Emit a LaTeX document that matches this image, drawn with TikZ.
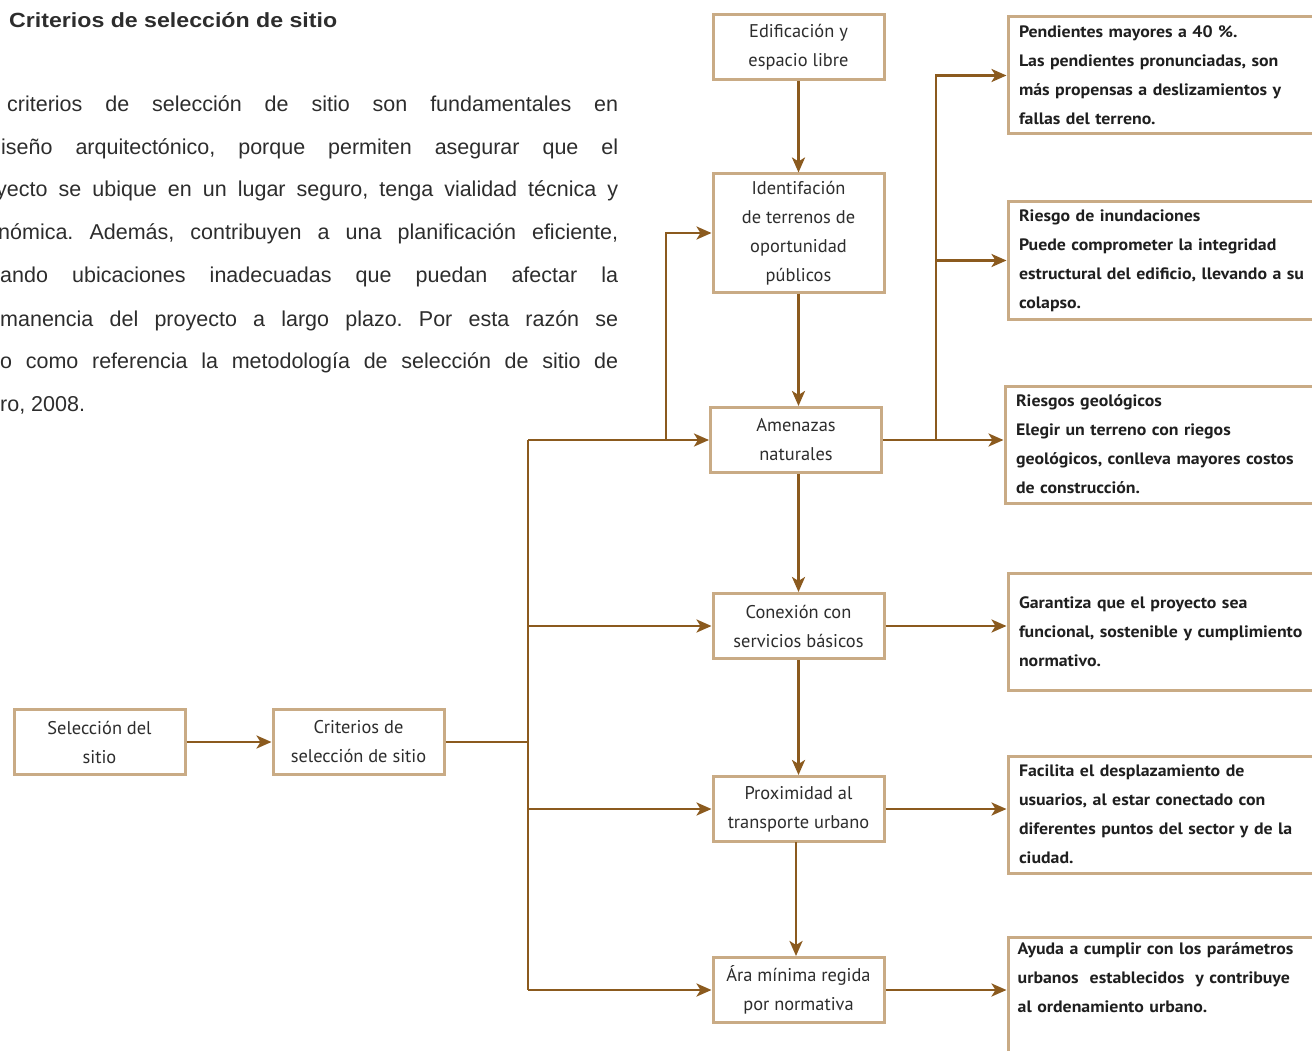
\documentclass[tikz,border=0pt]{standalone}
\usepackage{fontspec}
\setmainfont{PT Sans}
\newfontfamily\parafont{Liberation Sans}
\newfontfamily\rbfont[FakeStretch=1.08,WordSpace=0.6]{PT Sans}
\usetikzlibrary{arrows.meta}
\definecolor{conn}{RGB}{139,90,30}
\definecolor{bord}{RGB}{201,171,133}
\definecolor{txt}{RGB}{45,45,45}
\frenchspacing
\newcommand{\pline}[2]{\makebox[#1][s]{#2}}
\begin{document}
\begin{tikzpicture}[x=1pt,y=-1pt,
  box/.style={draw=bord,line width=3pt,fill=white,minimum width=171pt,minimum height=65pt,inner sep=0pt,align=center,font=\fontsize{18.4}{29}\selectfont,text=txt},
  rbox/.style={draw=bord,line width=3pt,anchor=north west,minimum width=330pt,inner xsep=11pt,inner ysep=0pt,text width=308pt,align=left,font=\rbfont\bfseries\fontsize{16.5}{29}\selectfont,text=black!88},
  rtxt/.style={anchor=north west,inner sep=0pt,text width=308pt,align=left,font=\rbfont\bfseries\fontsize{16.5}{29}\selectfont,text=black!88},
  para/.style={anchor=base west,inner sep=0pt,font=\parafont\fontsize{21.5}{21.5}\selectfont,text=txt},
  line/.style={draw=conn,line width=2.7pt},
  arr/.style={line,-{Stealth[length=15pt,width=13pt,inset=4pt]}}]
\useasboundingbox (0,0) rectangle (1312,1051);
\clip (0,0) rectangle (1312,1051);
\fill[white] (0,0) rectangle (1312,1051);

% title and paragraph
\node[anchor=base west,inner sep=0pt,font=\parafont\bfseries\fontsize{20.5}{22}\selectfont,text=txt] (title) at (9,28) {\resizebox{328pt}{\height}{Criterios de selección de sitio}};
\node[para] (p1) at (7,112) {\pline{611pt}{criterios de selección de sitio son fundamentales en}};
\node[para] (p2) at (1,155) {\pline{617pt}{iseño arquitectónico, porque permiten asegurar que el}};
\node[para] (p3) at (-4,197) {\pline{622pt}{yecto se ubique en un lugar seguro, tenga vialidad técnica y}};
\node[para] (p4) at (-2,240) {\pline{620pt}{nómica. Además, contribuyen a una planificación eficiente,}};
\node[para] (p5) at (0,283) {\pline{618pt}{ando ubicaciones inadecuadas que puedan afectar la}};
\node[para] (p6) at (0,326) {\pline{618pt}{manencia del proyecto a largo plazo. Por esta razón se}};
\node[para] (p7) at (0,368) {\pline{618pt}{o como referencia la metodología de selección de sitio de}};
\node[para] (p8) at (0,411) {ro, 2008.};

% central boxes
\node[box] (edif) at (798.5,47) {Edificación y\\espacio libre};
\node[box,minimum height=118pt] (ident) at (798.5,233) {Identifación\\de terrenos de\\oportunidad\\públicos};
\node[box] (amen) at (796,440) {Amenazas\\naturales};
\node[box] (conex) at (798.5,626) {Conexión con\\servicios básicos};
\node[box] (prox) at (798.5,809) {Proximidad al\\transporte urbano};
\node[box] (ara) at (798.5,990) {Ára mínima regida\\por normativa};
\node[box] (sel) at (99.5,742) {Selección del\\sitio};
\node[box] (crit) at (358.5,742) {Criterios de\\selección de sitio};

% right boxes
\node[rbox,minimum height=117pt] (pend) at (1006.5,15.5) {Pendientes mayores a 40 \%.\\Las pendientes pronunciadas, son\\más propensas a deslizamientos y\\fallas del terreno.};
\node[rbox,minimum height=117pt] (inund) at (1006.5,200.5) {Riesgo de inundaciones\\Puede comprometer la integridad\\estructural del edificio, llevando a su\\colapso.};
\node[rbox,minimum height=117pt] (geo) at (1003.5,384.5) {Riesgos geológicos\\Elegir un terreno con riegos\\geológicos, conlleva mayores costos\\de construcción.};
\node[rbox,minimum height=117pt] (gar) at (1006.5,571.5) {Garantiza que el proyecto sea\\funcional, sostenible y cumplimiento\\normativo.};
\node[rbox,minimum height=117pt] (fac) at (1006.5,754.5) {Facilita el desplazamiento de\\usuarios, al estar conectado con\\diferentes puntos del sector y de la\\ciudad.};
\node[rbox,minimum height=150pt] (ayu) at (1006.5,935.5) {};
\node[rtxt] (ayuT) at (1017.5,942) {Ayuda a cumplir con los parámetros\\urbanos\ \ establecidos\ \ y contribuye\\al ordenamiento urbano.};

% connectors
\coordinate (tr) at (528,742);
\coordinate (jx) at (666,440);
\coordinate (kx) at (936,440);
\draw[arr] (sel.east) -- (crit.west);
\draw[line] (crit.east) -- (tr);
\draw[line] (amen.west -| tr) -- (ara.west -| tr);
\draw[arr] (amen.west -| tr) -- (amen.west);
\draw[arr] (conex.west -| tr) -- (conex.west);
\draw[arr] (prox.west -| tr) -- (prox.west);
\draw[arr] (ara.west -| tr) -- (ara.west);
\draw[arr] (jx) |- (ident.west);

\draw[arr] (edif.south) -- (ident.north);
\draw[arr] (ident.south) -- (ident.south |- amen.north);
\draw[arr] (conex.north |- amen.south) -- (conex.north);
\draw[arr] (conex.south) -- (conex.south |- prox.north);
\coordinate (pa) at (796,842);
\draw[arr] (pa) -- (pa |- ara.north);

\draw[arr] (amen.east) -- (amen.east -| geo.west);
\draw[arr] (kx) |- (pend.west);
\draw[arr] (kx |- inund.west) -- (inund.west);
\draw[arr] (conex.east) -- (conex.east -| gar.west);
\draw[arr] (prox.east) -- (prox.east -| fac.west);
\draw[arr] (ara.east) -- (ara.east -| ayu.west);
\end{tikzpicture}
\end{document}
